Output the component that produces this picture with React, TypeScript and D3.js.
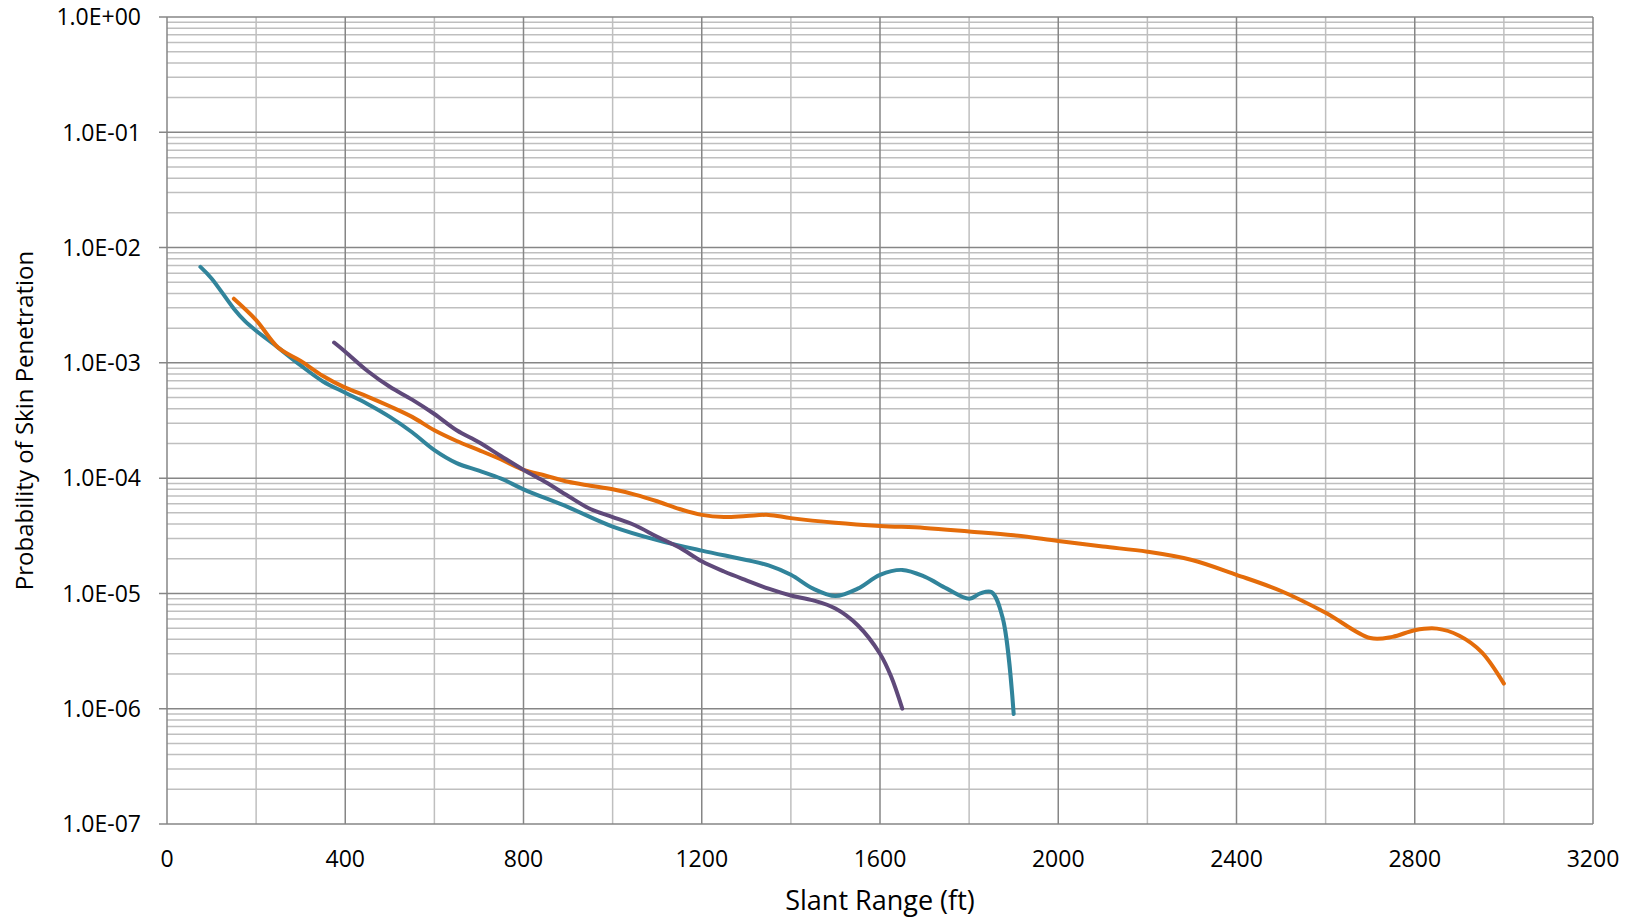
import React, { useEffect, useRef } from "react";
import * as d3 from "d3";

// slant range (ft) / probability pairs
const tealRange = [75, 100, 150, 175, 200, 250, 300, 350, 400, 450, 500, 550, 600, 650, 700, 750, 800, 900, 1000, 1100, 1200, 1300, 1350, 1400, 1450, 1500, 1550, 1600, 1650, 1700, 1750, 1800, 1825, 1850, 1875, 1900];
const tealProb = [6.8e-3, 5.4e-3, 2.95e-3, 2.3e-3, 1.9e-3, 1.35e-3, 9.5e-4, 6.9e-4, 5.5e-4, 4.4e-4, 3.4e-4, 2.5e-4, 1.75e-4, 1.35e-4, 1.16e-4, 9.9e-5, 8.0e-5, 5.6e-5, 3.8e-5, 2.9e-5, 2.35e-5, 1.95e-5, 1.75e-5, 1.45e-5, 1.1e-5, 9.5e-6, 1.1e-5, 1.45e-5, 1.6e-5, 1.4e-5, 1.1e-5, 9.0e-6, 1.0e-5, 1.03e-5, 6.2e-6, 9.0e-7];

const orangeRange = [150, 200, 250, 300, 350, 400, 450, 500, 550, 600, 650, 700, 750, 800, 850, 900, 950, 1000, 1050, 1100, 1150, 1200, 1250, 1300, 1350, 1400, 1500, 1600, 1700, 1800, 1900, 2000, 2100, 2200, 2300, 2400, 2500, 2600, 2700, 2750, 2800, 2850, 2900, 2950, 3000];
const orangeProb = [3.6e-3, 2.35e-3, 1.35e-3, 1.04e-3, 7.7e-4, 6.1e-4, 5.1e-4, 4.2e-4, 3.4e-4, 2.6e-4, 2.1e-4, 1.75e-4, 1.45e-4, 1.18e-4, 1.05e-4, 9.3e-5, 8.6e-5, 8.0e-5, 7.2e-5, 6.3e-5, 5.4e-5, 4.8e-5, 4.6e-5, 4.7e-5, 4.8e-5, 4.5e-5, 4.1e-5, 3.85e-5, 3.7e-5, 3.45e-5, 3.2e-5, 2.85e-5, 2.55e-5, 2.3e-5, 1.95e-5, 1.45e-5, 1.05e-5, 6.8e-6, 4.1e-6, 4.2e-6, 4.8e-6, 4.95e-6, 4.3e-6, 3.1e-6, 1.65e-6];

const purpleRange = [375, 400, 450, 500, 550, 600, 650, 700, 750, 800, 850, 900, 950, 1000, 1050, 1100, 1150, 1200, 1250, 1300, 1350, 1400, 1450, 1500, 1550, 1600, 1625, 1650];
const purpleProb = [1.5e-3, 1.25e-3, 8.5e-4, 6.2e-4, 4.8e-4, 3.6e-4, 2.6e-4, 2.05e-4, 1.55e-4, 1.18e-4, 9.2e-5, 7.0e-5, 5.4e-5, 4.6e-5, 3.9e-5, 3.1e-5, 2.5e-5, 1.9e-5, 1.55e-5, 1.3e-5, 1.1e-5, 9.6e-6, 8.7e-6, 7.4e-6, 5.3e-6, 3.0e-6, 1.9e-6, 1.0e-6];

const xTicks = [0, 400, 800, 1200, 1600, 2000, 2400, 2800, 3200];
const yTickLabels = ["1.0E+00", "1.0E-01", "1.0E-02", "1.0E-03", "1.0E-04", "1.0E-05", "1.0E-06", "1.0E-07"];

const series = [
  { name: "teal", range: tealRange, prob: tealProb, color: "#31849B" },
  { name: "orange", range: orangeRange, prob: orangeProb, color: "#E46C0A" },
  { name: "purple", range: purpleRange, prob: purpleProb, color: "#5F497A" },
];

export default function App() {
  const ref = useRef<SVGSVGElement>(null);

  useEffect(() => {
    if (!ref.current) return;
    const width = 1631,
      height = 922;
    const margin = { top: 17, right: 38, bottom: 98, left: 167 };
    const w = width - margin.left - margin.right,
      h = height - margin.top - margin.bottom;
    const font = "'Open Sans', sans-serif";

    const svg = d3.select(ref.current);
    svg.selectAll("*").remove();

    const x = d3.scaleLinear().domain([0, 3200]).range([0, w]);
    const y = d3.scaleLog().domain([1e-7, 1]).range([h, 0]);

    const g = svg.append("g").attr("transform", `translate(${margin.left},${margin.top})`);

    // minor grid
    const minorY: number[] = [];
    for (let e = -7; e < 0; e++) for (let k = 2; k <= 9; k++) minorY.push(k * Math.pow(10, e));
    g.selectAll(".minor-y")
      .data(minorY)
      .enter()
      .append("line")
      .attr("x1", 0)
      .attr("x2", w)
      .attr("y1", d => y(d))
      .attr("y2", d => y(d))
      .attr("stroke", "#BFBFBF")
      .attr("stroke-width", 1.5);

    g.selectAll(".minor-x")
      .data(d3.range(200, 3200, 400))
      .enter()
      .append("line")
      .attr("x1", d => x(d))
      .attr("x2", d => x(d))
      .attr("y1", 0)
      .attr("y2", h)
      .attr("stroke", "#BFBFBF")
      .attr("stroke-width", 1.5);

    // major grid
    const majorY = d3.range(0, 8).map(i => Math.pow(10, -i));
    g.selectAll(".major-y")
      .data(majorY)
      .enter()
      .append("line")
      .attr("x1", -8)
      .attr("x2", w)
      .attr("y1", d => y(d))
      .attr("y2", d => y(d))
      .attr("stroke", "#868686")
      .attr("stroke-width", 1.5);

    g.selectAll(".major-x")
      .data(xTicks)
      .enter()
      .append("line")
      .attr("x1", d => x(d))
      .attr("x2", d => x(d))
      .attr("y1", 0)
      .attr("y2", h)
      .attr("stroke", "#868686")
      .attr("stroke-width", 1.5);

    // tick labels
    g.selectAll(".ylab")
      .data(majorY)
      .enter()
      .append("text")
      .attr("x", -26)
      .attr("y", d => y(d))
      .attr("dy", "0.36em")
      .attr("text-anchor", "end")
      .attr("font-family", font)
      .attr("font-size", 23)
      .attr("fill", "#000")
      .text((d, i) => yTickLabels[i]);

    g.selectAll(".xlab")
      .data(xTicks)
      .enter()
      .append("text")
      .attr("x", d => x(d))
      .attr("y", h + 43)
      .attr("text-anchor", "middle")
      .attr("font-family", font)
      .attr("font-size", 23)
      .attr("fill", "#000")
      .text(d => String(d));

    // lines
    const line = d3
      .line<[number, number]>()
      .x(d => x(d[0]))
      .y(d => y(d[1]))
      .curve(d3.curveCatmullRom.alpha(0.5));

    series.forEach(s => {
      const pts = s.range.map((r, i) => [r, s.prob[i]] as [number, number]);
      g.append("path")
        .datum(pts)
        .attr("d", line)
        .attr("fill", "none")
        .attr("stroke", s.color)
        .attr("stroke-width", 4)
        .attr("stroke-linejoin", "round")
        .attr("stroke-linecap", "round");
    });

    // axis titles
    svg
      .append("text")
      .attr("x", margin.left + w / 2)
      .attr("y", 910)
      .attr("text-anchor", "middle")
      .attr("font-family", font)
      .attr("font-size", 27)
      .attr("fill", "#000")
      .text("Slant Range (ft)");

    svg
      .append("text")
      .attr("transform", `translate(33,${margin.top + h / 2}) rotate(-90)`)
      .attr("text-anchor", "middle")
      .attr("font-family", font)
      .attr("font-size", 24)
      .attr("fill", "#000")
      .text("Probability of Skin Penetration");
  }, []);

  return (
    <svg
      ref={ref}
      width={1631}
      height={922}
      style={{ position: "absolute", left: 0, top: 0, background: "#fff" }}
    />
  );
}
